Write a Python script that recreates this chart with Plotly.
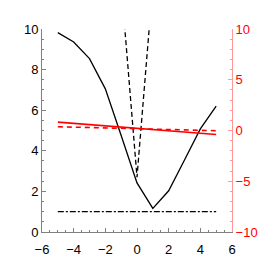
import plotly.graph_objects as go

# data
x_main = [-5, -4, -3, -2, -1, 0, 1, 2, 3, 4, 5]
y_solid = [9.82, 9.36, 8.54, 7.05, 4.75, 2.42, 1.16, 2.03, 3.55, 5.08, 6.2]
x_v = [-1, 0, 1]
y_dashed = [12.2, 2.7, 12.2]
x_flat = [-5, 5]
y_dashdot = [1.0, 1.0]
x_red = [-5, 5]
y_red_solid = [0.83, -0.4]
y_red_dashed = [0.37, -0.02]
x_tickvals = [-6, -4, -2, 0, 2, 4, 6]
x_ticktext = ["−6", "−4", "−2", "0", "2", "4", "6"]
x_title = "δ"

font = "Liberation Sans, Arial, sans-serif"
grey = "#808080"

fig = go.Figure()
fig.add_trace(go.Scatter(x=x_main, y=y_solid, mode="lines",
                         line=dict(color="black", width=1.3), showlegend=False))
fig.add_trace(go.Scatter(x=x_v, y=y_dashed, mode="lines",
                         line=dict(color="black", width=1.3, dash="5px,3px"), showlegend=False))
fig.add_trace(go.Scatter(x=x_flat, y=y_dashdot, mode="lines",
                         line=dict(color="black", width=1.3, dash="6px,2px,2px,2px"), showlegend=False))
fig.add_trace(go.Scatter(x=x_red, y=y_red_solid, mode="lines", yaxis="y2",
                         line=dict(color="red", width=1.6), showlegend=False))
fig.add_trace(go.Scatter(x=x_red, y=y_red_dashed, mode="lines", yaxis="y2",
                         line=dict(color="red", width=1.6, dash="5px,4px"), showlegend=False))

fig.update_layout(
    width=258, height=258,
    margin=dict(l=34, r=34, t=21, b=34),
    paper_bgcolor="white", plot_bgcolor="white",
    font=dict(family=font, size=13, color="black"),
    hovermode=False, dragmode=False,
    xaxis=dict(range=[-6, 6], tickmode="array", tickvals=x_tickvals, ticktext=x_ticktext,
               ticks="inside", ticklen=4, ticklabelstandoff=5,
               tickcolor=grey, showline=True, linecolor=grey, linewidth=1,
               showgrid=False, zeroline=False,
               minor=dict(dtick=0.5, tick0=0, ticks="inside", ticklen=2, tickcolor=grey),
               tickfont=dict(size=13), automargin=False),
    yaxis=dict(range=[0, 10], dtick=2, ticks="inside", ticklen=4,
               tickcolor=grey, showline=True, linecolor=grey, linewidth=1,
               showgrid=False, zeroline=False,
               minor=dict(dtick=0.5, ticks="inside", ticklen=2, tickcolor=grey),
               tickfont=dict(size=13), automargin=False),
    yaxis2=dict(range=[-10, 10], dtick=5, overlaying="y", side="right",
                ticks="inside", ticklen=4, tickcolor="#ff9999",
                showline=True, linecolor="#ff9999", linewidth=1,
                showgrid=False, zeroline=False,
                minor=dict(dtick=1, ticks="inside", ticklen=2, tickcolor="#ff9999"),
                tickfont=dict(size=13, color="red"), automargin=False),
)

fig.write_html("out.html", config={"staticPlot": True})
